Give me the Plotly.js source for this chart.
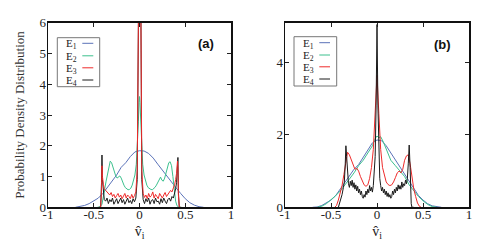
<!DOCTYPE html>
<html>
<head>
<meta charset="utf-8">
<script src="https://cdn.plot.ly/plotly-3.0.1.min.js"></script>
<style>html,body{margin:0;padding:0;background:#fff;}#chart{width:479px;height:241px;}</style>
</head>
<body>
<div id="chart"></div>
<script>
// ---------- DATA ----------
const seriesNames = ['E<sub>1</sub>', 'E<sub>2</sub>', 'E<sub>3</sub>', 'E<sub>4</sub>'];
const xTickVals = [-1, -0.5, 0, 0.5, 1];
const xTickText = ['-1', '-0.5', '0', '0.5', '1'];
const yTickValsA = [0, 1, 2, 3, 4, 5, 6];
const yTickValsB = [0, 2, 4];

// Panel (a)
const a_E1_x = [-0.7,-0.65,-0.6,-0.55,-0.5,-0.45,-0.4,-0.35,-0.3,-0.25,-0.2,-0.15,-0.1,-0.05,0,0.05,0.1,0.15,0.2,0.25,0.3,0.35,0.4,0.45,0.5,0.55,0.6,0.65,0.7];
const a_E1_y = [0,0.02,0.06,0.12,0.2,0.3,0.45,0.65,0.85,1.05,1.3,1.45,1.65,1.8,1.84,1.83,1.75,1.6,1.4,1.2,1.0,0.82,0.63,0.45,0.28,0.15,0.07,0.02,0];

const a_E2_x = [-0.46,-0.43,-0.41,-0.395,-0.38,-0.365,-0.35,-0.335,-0.32,-0.305,
  -0.29,-0.275,-0.26,-0.245,-0.23,-0.215,-0.2,-0.185,-0.17,-0.155,
  -0.14,-0.125,-0.11,-0.095,-0.08,-0.065,-0.05,-0.035,-0.022,-0.012,
  -0.005,0,0.005,0.012,0.022,0.035,0.05,0.065,0.08,0.095,
  0.11,0.125,0.14,0.155,0.17,0.185,0.2,0.215,0.23,0.245,
  0.26,0.275,0.29,0.305,0.32,0.335,0.35,0.365,0.38,0.395,
  0.41,0.43,0.46];
const a_E2_y = [0,0.02,0.1,0.3,0.6,0.85,1.1,1.35,1.5,1.45,
  1.3,1.15,1.02,0.95,1.0,1.02,0.95,0.82,0.72,0.64,
  0.6,0.57,0.58,0.62,0.72,0.85,1.05,1.4,2.0,2.8,
  3.4,3.6,3.4,2.8,2.0,1.4,1.05,0.85,0.72,0.64,
  0.6,0.58,0.57,0.6,0.65,0.72,0.82,0.92,0.98,0.88,
  0.85,0.95,1.15,1.35,1.45,1.48,1.35,1.0,0.55,0.2,
  0.05,0,0];

const a_E34_x = [-0.44,-0.425,-0.415,-0.41,-0.405,-0.395,-0.385,-0.37,-0.355,-0.34,
  -0.325,-0.31,-0.295,-0.28,-0.265,-0.25,-0.235,-0.22,-0.205,-0.19,
  -0.175,-0.16,-0.145,-0.13,-0.115,-0.1,-0.085,-0.07,-0.055,-0.04,
  -0.025,-0.015,-0.008,0,0.008,0.015,0.025,0.04,0.055,0.07,
  0.085,0.1,0.115,0.13,0.145,0.16,0.175,0.19,0.205,0.22,
  0.235,0.25,0.265,0.28,0.295,0.31,0.325,0.34,0.355,0.37,
  0.385,0.395,0.405,0.415,0.42,0.425,0.435,0.45];
const a_E3_y = [0,0,0.5,1.35,1.0,0.75,0.6,0.55,0.5,0.45,
  0.4,0.48,0.35,0.42,0.3,0.38,0.45,0.33,0.4,0.28,
  0.36,0.45,0.3,0.4,0.35,0.28,0.42,0.3,0.38,0.5,
  1.2,6.5,7.5,8,7.5,6.5,1.2,0.45,0.32,0.4,
  0.28,0.45,0.33,0.38,0.5,0.3,0.42,0.35,0.28,0.45,
  0.38,0.3,0.4,0.48,0.35,0.42,0.5,0.55,0.5,0.6,
  0.75,0.9,1.1,1.5,1.3,0.4,0,0];
const a_E4_y = [0,0,0.8,1.7,0.9,0.4,0.25,0.2,0.3,0.12,
  0.25,0.18,0.3,0.1,0.22,0.28,0.12,0.2,0.3,0.15,
  0.25,0.1,0.2,0.3,0.15,0.22,0.12,0.28,0.18,0.3,
  0.9,6.5,7.5,8,7.5,6.5,0.9,0.25,0.12,0.28,
  0.18,0.3,0.1,0.22,0.25,0.12,0.3,0.18,0.2,0.1,
  0.28,0.15,0.3,0.2,0.12,0.25,0.3,0.2,0.35,0.3,
  0.45,0.6,0.8,1.2,1.62,0.5,0,0];

// Panel (b)
const b_E1_x = [-0.7,-0.65,-0.6,-0.55,-0.5,-0.45,-0.4,-0.35,-0.3,-0.25,-0.2,-0.15,-0.1,-0.05,0,0.05,0.1,0.15,0.2,0.25,0.3,0.35,0.4,0.45,0.5,0.55,0.6,0.65,0.7];
const b_E1_y = [0,0.01,0.05,0.12,0.2,0.32,0.5,0.7,0.88,1.05,1.18,1.38,1.6,1.78,1.86,1.84,1.7,1.5,1.3,1.1,0.92,0.72,0.5,0.33,0.2,0.1,0.04,0.01,0];

const b_E2_x = [-0.65,-0.6,-0.55,-0.5,-0.45,-0.4,-0.35,-0.3,-0.25,-0.2,-0.15,-0.1,-0.05,-0.02,0,0.02,0.04,0.07,0.1,0.15,0.2,0.25,0.3,0.35,0.4,0.45,0.5,0.55,0.6,0.65];
const b_E2_y = [0,0.03,0.1,0.2,0.32,0.45,0.6,0.78,0.95,1.15,1.3,1.5,1.7,1.9,1.97,1.92,1.95,1.8,1.6,1.3,1.15,1.0,0.85,0.62,0.45,0.3,0.18,0.08,0.02,0];

const b_E3_x = [-0.46,-0.44,-0.42,-0.4,-0.38,-0.36,-0.34,-0.32,-0.3,-0.28,-0.26,-0.24,-0.22,-0.2,-0.18,-0.16,-0.14,-0.12,-0.1,-0.08,-0.06,-0.04,-0.02,
  0,0.02,0.04,0.06,0.08,0.1,0.12,0.14,0.16,0.18,0.2,0.22,0.24,0.26,0.28,0.3,0.32,0.34,0.36,0.38,0.4,0.42,0.44,0.46,0.48];
const b_E3_y = [0,0.05,0.2,0.4,0.6,0.9,1.25,1.52,1.45,1.3,1.15,1.05,1.08,1.0,0.85,0.72,0.62,0.58,0.62,0.8,1.1,1.6,2.6,
  3.65,2.6,1.6,1.1,0.85,0.7,0.63,0.6,0.62,0.7,0.82,0.95,1.0,0.95,1.05,1.3,1.42,1.45,1.2,0.8,0.5,0.3,0.12,0.03,0];

const b_E4_x = [-0.42,-0.4,-0.38,-0.365,-0.355,-0.345,-0.338,-0.33,-0.322,
  -0.31,-0.3,-0.29,-0.28,-0.27,-0.26,-0.25,-0.24,-0.23,-0.22,
  -0.21,-0.2,-0.19,-0.18,-0.17,-0.16,-0.15,-0.14,-0.13,-0.12,
  -0.11,-0.1,-0.09,-0.08,-0.07,-0.06,-0.05,-0.04,-0.03,-0.02,
  -0.01,0,0.01,0.02,0.03,0.04,0.05,0.06,0.07,0.08,
  0.09,0.1,0.11,0.12,0.13,0.14,0.15,0.16,0.17,0.18,
  0.19,0.2,0.21,0.22,0.23,0.24,0.25,0.26,0.27,0.28,
  0.29,0.3,0.31,0.32,0.33,0.34,
  0.35,0.36,0.365,0.372,0.38,0.4];
const b_E4_y = [0,0.15,0.35,0.55,0.7,1.2,1.7,1.4,0.9,
  0.65,0.55,0.72,0.6,0.75,0.55,0.68,0.5,0.62,0.45,
  0.58,0.4,0.5,0.35,0.45,0.3,0.25,0.35,0.28,0.45,
  0.35,0.5,0.4,0.6,0.45,0.55,0.42,0.6,0.9,1.4,
  2.8,5.05,2.8,1.3,0.8,0.6,0.45,0.55,0.4,0.5,
  0.35,0.45,0.3,0.4,0.28,0.35,0.25,0.3,0.45,0.35,
  0.5,0.4,0.55,0.45,0.62,0.5,0.6,0.5,0.7,0.55,
  0.65,0.6,0.75,0.65,0.8,1.2,
  1.72,1.1,0.5,0.1,0,0];

// ---------- STYLE ----------
const colors = ['#5a72b8', '#3cc08e', '#ee2b2b', '#1a1a1a'];
const SERIF = 'Liberation Serif, Times New Roman, serif';
const SANS = 'Liberation Sans, Arial, sans-serif';

function check(x, y, name) { if (x.length !== y.length) throw new Error('length mismatch ' + name + ' ' + x.length + ' vs ' + y.length); }
check(a_E1_x, a_E1_y, 'aE1'); check(a_E2_x, a_E2_y, 'aE2'); check(a_E34_x, a_E3_y, 'aE3'); check(a_E34_x, a_E4_y, 'aE4');
check(b_E1_x, b_E1_y, 'bE1'); check(b_E2_x, b_E2_y, 'bE2'); check(b_E3_x, b_E3_y, 'bE3'); check(b_E4_x, b_E4_y, 'bE4');

function tr(x, y, i, xa, ya) {
  return {x: x, y: y, type: 'scatter', mode: 'lines', name: seriesNames[i], xaxis: xa, yaxis: ya,
    line: {color: colors[i], width: 1}, hoverinfo: 'skip'};
}
const data = [
  tr(a_E1_x, a_E1_y, 0, 'x', 'y'),
  tr(a_E2_x, a_E2_y, 1, 'x', 'y'),
  tr(a_E34_x, a_E4_y, 3, 'x', 'y'),
  tr(a_E34_x, a_E3_y, 2, 'x', 'y'),
  tr(b_E1_x, b_E1_y, 0, 'x2', 'y2'),
  tr(b_E2_x, b_E2_y, 1, 'x2', 'y2'),
  tr(b_E3_x, b_E3_y, 2, 'x2', 'y2'),
  tr(b_E4_x, b_E4_y, 3, 'x2', 'y2')
];

const W = 479, H = 241;
const px = v => v / W;
const py = v => 1 - v / H;

function xax(dom, anchor) {
  return {domain: dom, anchor: anchor, range: [-1, 1], tickmode: 'array', tickvals: xTickVals, ticktext: xTickText,
    ticks: 'inside', ticklen: 4, tickwidth: 1, tickcolor: '#222', mirror: 'ticks', showline: true, linewidth: 1.5,
    linecolor: '#111', showgrid: false, zeroline: false, fixedrange: true, ticklabelstandoff: -5,
    tickfont: {family: SERIF, size: 13, color: '#222'},
    title: {text: 'v\u0302<sub>i</sub>', font: {family: SERIF, size: 14, color: '#222'}, standoff: 13}};
}
function yax(dom, anchor, rng, vals, title) {
  const o = {domain: dom, anchor: anchor, range: rng, tickmode: 'array', tickvals: vals,
    ticks: 'inside', ticklen: 4, tickwidth: 1, tickcolor: '#222', mirror: 'ticks', showline: true, linewidth: 1.5,
    linecolor: '#111', showgrid: false, zeroline: false, fixedrange: true, ticklabelstandoff: -2,
    tickfont: {family: SERIF, size: 13, color: '#222'}};
  if (title) o.title = {text: title, font: {family: SERIF, size: 13, color: '#333'}, standoff: 12};
  return o;
}

const yDom = [1 - 207.3 / H, 1 - 22.7 / H];
const layout = {
  width: W, height: H, margin: {l: 0, r: 0, t: 0, b: 0}, showlegend: false,
  paper_bgcolor: '#fff', plot_bgcolor: '#fff',
  xaxis: xax([48 / W, 231 / W], 'y'),
  yaxis: yax(yDom, 'x', [0, 6], yTickValsA, 'Probability Density Distribution'),
  xaxis2: xax([285 / W, 469 / W], 'y2'),
  yaxis2: yax(yDom, 'x2', [0, 5.1], yTickValsB, null),
  shapes: [],
  annotations: []
};

// Custom legends (text left, line sample right), one per panel
const legends = [
  {box: [57.3, 37.7, 99.7, 86.7], textX: 63.5, lineX: [82.3, 93.3], rows: [43.3, 55.8, 67.8, 80]},
  {box: [294, 36.7, 336.7, 86], textX: 301, lineX: [319.3, 330], rows: [42.7, 55, 66.8, 79]}
];
legends.forEach(L => {
  layout.shapes.push({type: 'rect', xref: 'paper', yref: 'paper', x0: px(L.box[0]), x1: px(L.box[2]),
    y0: py(L.box[3]), y1: py(L.box[1]), line: {color: '#777', width: 1}, fillcolor: 'rgba(0,0,0,0)'});
  L.rows.forEach((r, i) => {
    layout.shapes.push({type: 'line', xref: 'paper', yref: 'paper', x0: px(L.lineX[0]), x1: px(L.lineX[1]),
      y0: py(r), y1: py(r), line: {color: colors[i], width: 1}});
    layout.annotations.push({xref: 'paper', yref: 'paper', x: px(L.textX), y: py(r + 1), xanchor: 'left', yanchor: 'middle',
      text: seriesNames[i], showarrow: false, font: {family: SERIF, size: 11, color: '#222'}});
  });
});
layout.annotations.push({xref: 'paper', yref: 'paper', x: px(205.5), y: py(43.3), xanchor: 'center', yanchor: 'middle',
  text: '<b>(a)</b>', showarrow: false, font: {family: SANS, size: 13, color: '#111'}});
layout.annotations.push({xref: 'paper', yref: 'paper', x: px(442), y: py(44), xanchor: 'center', yanchor: 'middle',
  text: '<b>(b)</b>', showarrow: false, font: {family: SANS, size: 13, color: '#111'}});

Plotly.newPlot('chart', data, layout, {staticPlot: true, displayModeBar: false});
</script>
</body>
</html>
